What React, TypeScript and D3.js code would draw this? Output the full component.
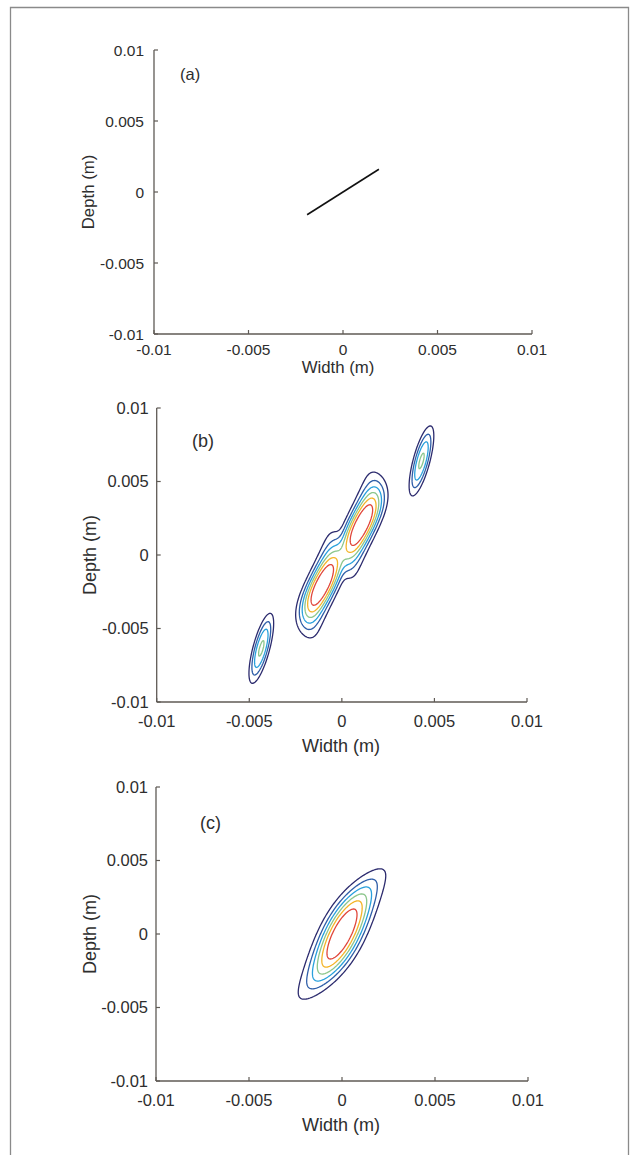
import React, { useMemo } from "react";
import * as d3 from "d3";

// ---------- data ----------
const X_TICKS = [-0.01, -0.005, 0, 0.005, 0.01];
const Y_TICKS = [-0.01, -0.005, 0, 0.005, 0.01];
const TICK_LABELS = ["-0.01", "-0.005", "0", "0.005", "0.01"];
const PANEL_LABELS = ["(a)", "(b)", "(c)"];
const X_LABEL = "Width (m)";
const Y_LABEL = "Depth (m)";

// panel (a): straight segment
const SEGMENT_A_X = [-0.0019, 0.0019];
const SEGMENT_A_Y = [-0.0016, 0.0016];

// contour levels (fraction of maximum) and colours
const CONTOUR_LEVELS = [0.25, 0.4, 0.53, 0.65, 0.76, 0.87];
const CONTOUR_COLORS = ["#2c2b6e", "#2f5ea8", "#29a0dc", "#8cc68c", "#f4b52a", "#e0473b"];

// intensity lobes (centres / widths in mm)
const LOBES_B = [
  { cx: 1.06, cy: 2.04, amp: 1.0, sx: 0.88, sy: 3.14, shear: 0.35, bend: 0.013 },
  { cx: -1.06, cy: -2.04, amp: 1.0, sx: 0.88, sy: 3.14, shear: 0.35, bend: 0.013 },
  { cx: 4.3, cy: 6.4, amp: 0.668, sx: 0.47, sy: 2.4, shear: 0.2, bend: 0 },
  { cx: -4.35, cy: -6.35, amp: 0.668, sx: 0.47, sy: 2.4, shear: 0.2, bend: 0 },
];
const LOBES_C = [
  { cx: 0, cy: 0, amp: 1.0, sx: 1.2, sy: 3.87, shear: 0.35, bend: -0.0056 },
];

const W = 636;
const H = 1155;
const POW = 2.5;
const PROFILE_EXP = 1.2;
const GRID_N = 400;

type Lobe = { cx: number; cy: number; amp: number; sx: number; sy: number; shear: number; bend: number };

function lobeField(lobes: Lobe[], u: number, v: number) {
  let s = 0;
  for (const L of lobes) {
    const dy = v - L.cy;
    const dx = u - L.cx;
    const xp = dx - L.shear * dy + L.bend * dy * dy * dy;
    const q = (xp / L.sx) ** 2 + (dy / L.sy) ** 2;
    s += Math.pow(L.amp * Math.exp(-Math.pow(q, PROFILE_EXP)), POW);
  }
  return Math.pow(s, 1 / POW);
}

type Box = { left: number; right: number; top: number; bottom: number };
type Style = {
  tickFs: number; labelFs: number; panelFs: number;
  yTickGap: number; xTickBase: number; xLabelBase: number; xLabelCx: number;
  yLabelX: number; panelX: number; panelY: number;
};

const FONT = "'Liberation Sans', Arial, sans-serif";
const AXIS_COLOR = "#5f5a55";
const TEXT_COLOR = "#2e2e2e";

function Axes({ box, st, label }: { box: Box; st: Style; label: string }) {
  const x = d3.scaleLinear().domain([-0.01, 0.01]).range([box.left, box.right]);
  const y = d3.scaleLinear().domain([-0.01, 0.01]).range([box.bottom, box.top]);
  const tl = 4;
  return (
    <g fontFamily={FONT} fill={TEXT_COLOR}>
      <line x1={box.left} y1={box.top} x2={box.left} y2={box.bottom} stroke={AXIS_COLOR} strokeWidth={1.3} />
      <line x1={box.left} y1={box.bottom} x2={box.right} y2={box.bottom} stroke={AXIS_COLOR} strokeWidth={1.3} />
      {Y_TICKS.map((t, i) => (
        <g key={"y" + i}>
          <line x1={box.left} x2={box.left + tl} y1={y(t)} y2={y(t)} stroke={AXIS_COLOR} strokeWidth={1.2} />
          <text x={box.left - st.yTickGap} y={y(t)} dy="0.36em" textAnchor="end" fontSize={st.tickFs}>
            {TICK_LABELS[i]}
          </text>
        </g>
      ))}
      {X_TICKS.map((t, i) => (
        <g key={"x" + i}>
          <line x1={x(t)} x2={x(t)} y1={box.bottom} y2={box.bottom - tl} stroke={AXIS_COLOR} strokeWidth={1.2} />
          <text x={x(t)} y={box.bottom + st.xTickBase} textAnchor="middle" fontSize={st.tickFs}>
            {TICK_LABELS[i]}
          </text>
        </g>
      ))}
      <text x={st.xLabelCx} y={box.bottom + st.xLabelBase} textAnchor="middle" fontSize={st.labelFs}>
        {X_LABEL}
      </text>
      <text
        transform={`translate(${st.yLabelX},${(box.top + box.bottom) / 2}) rotate(-90)`}
        textAnchor="middle"
        fontSize={st.labelFs}
      >
        {Y_LABEL}
      </text>
      <text x={st.panelX} y={st.panelY} fontSize={st.panelFs}>
        {label}
      </text>
    </g>
  );
}

function ContourMarks({ box, lobes }: { box: Box; lobes: Lobe[] }) {
  const paths = useMemo(() => {
    const x = d3.scaleLinear().domain([-0.01, 0.01]).range([box.left, box.right]);
    const y = d3.scaleLinear().domain([-0.01, 0.01]).range([box.bottom, box.top]);
    const gx = d3.scaleLinear().domain([0, GRID_N]).range([-0.01, 0.01]);
    const gy = d3.scaleLinear().domain([0, GRID_N]).range([0.01, -0.01]);
    const values = new Float64Array(GRID_N * GRID_N);
    let max = 0;
    for (let j = 0; j < GRID_N; j++) {
      const v = gy(j + 0.5) * 1000;
      for (let i = 0; i < GRID_N; i++) {
        const u = gx(i + 0.5) * 1000;
        const f = lobeField(lobes, u, v);
        values[j * GRID_N + i] = f;
        if (f > max) max = f;
      }
    }
    const contours = d3
      .contours()
      .size([GRID_N, GRID_N])
      .thresholds(CONTOUR_LEVELS.map((l) => l * max))(values as any);
    const line = d3
      .line<[number, number]>()
      .x((p) => x(gx(p[0])))
      .y((p) => y(gy(p[1])))
      .curve(d3.curveLinearClosed);
    return contours.map((c, k) => {
      let d = "";
      for (const poly of c.coordinates) for (const ring of poly) d += line(ring as any) || "";
      return { d, color: CONTOUR_COLORS[k] };
    });
  }, [box, lobes]);
  return (
    <g fill="none" strokeWidth={1.3} strokeLinejoin="round">
      {paths.map((p, i) => (
        <path key={i} d={p.d} stroke={p.color} />
      ))}
    </g>
  );
}

const BOX_A: Box = { left: 154, right: 532, top: 50, bottom: 334 };
const BOX_B: Box = { left: 156.7, right: 527, top: 408, bottom: 702 };
const BOX_C: Box = { left: 156, right: 528, top: 787, bottom: 1081 };

const ST_A: Style = {
  tickFs: 15.5, labelFs: 16.8, panelFs: 16.5, yTickGap: 10, xTickBase: 20.5, xLabelBase: 38.5,
  xLabelCx: 338, yLabelX: 94, panelX: 180, panelY: 79.5,
};
const ST_B: Style = {
  tickFs: 16.5, labelFs: 18, panelFs: 18, yTickGap: 8, xTickBase: 24.5, xLabelBase: 49.5,
  xLabelCx: 341, yLabelX: 96, panelX: 192, panelY: 447,
};
const ST_C: Style = { ...ST_B, xLabelCx: 341, yLabelX: 95.5, panelX: 200, panelY: 829 };

export default function App() {
  const xa = d3.scaleLinear().domain([-0.01, 0.01]).range([BOX_A.left, BOX_A.right]);
  const ya = d3.scaleLinear().domain([-0.01, 0.01]).range([BOX_A.bottom, BOX_A.top]);
  const seg = d3.line<number>().x((v) => xa(v)).y((_, i) => ya(SEGMENT_A_Y[i]))(SEGMENT_A_X) || "";
  return (
    <svg
      width={W}
      height={H}
      style={{ position: "absolute", left: 0, top: 0, display: "block", background: "#fff" }}
    >
      <path d={`M10.5,${H} V7.5 H628.5 V${H}`} fill="none" stroke="#8a8a8a" strokeWidth={1.3} />
      <Axes box={BOX_A} st={ST_A} label={PANEL_LABELS[0]} />
      <path d={seg} stroke="#111" strokeWidth={1.6} fill="none" />
      <Axes box={BOX_B} st={ST_B} label={PANEL_LABELS[1]} />
      <ContourMarks box={BOX_B} lobes={LOBES_B} />
      <Axes box={BOX_C} st={ST_C} label={PANEL_LABELS[2]} />
      <ContourMarks box={BOX_C} lobes={LOBES_C} />
    </svg>
  );
}
